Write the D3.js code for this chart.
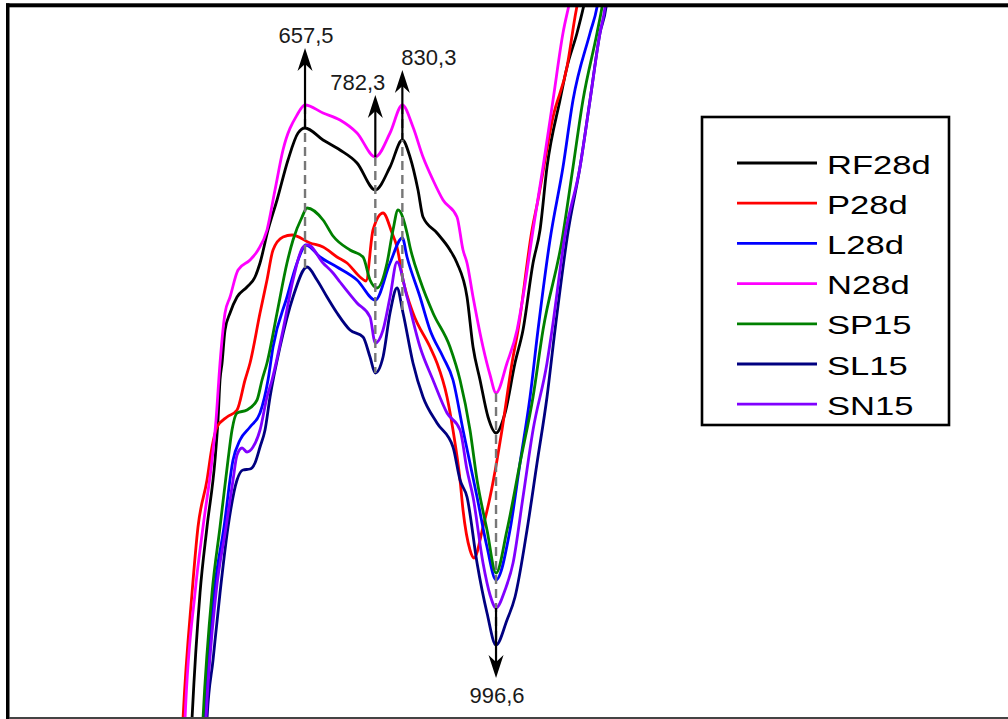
<!DOCTYPE html>
<html>
<head>
<meta charset="utf-8">
<script src="https://cdn.jsdelivr.net/npm/d3@7"></script>
<style>
  html, body { margin: 0; padding: 0; background: #fff; }
  svg { display: block; }
</style>
</head>
<body>
<svg id="chart" width="1008" height="719"></svg>
<script>
// Sample names and line colours, in legend order
const seriesNames  = ["RF28d", "P28d", "L28d", "N28d", "SP15", "SL15", "SN15"];
const seriesColors = ["#000000", "#ff0000", "#0000ff", "#ff00ff", "#008000", "#000080", "#8000ff"];

// Spectra: [wavenumber (cm-1), intensity (a.u.)]
const rf28d = [[455.1,-2],[456.9,0.1],[471.1,12.7],[483.5,19.3],[497.7,26.0],[503.0,30.0],[506.6,34.0],[510.2,35.7],[515.5,39.0],[524.4,40.7],[536.8,42.3],[554.5,43.3],[568.7,44.3],[577.6,45.7],[591.8,49.0],[607.8,52.0],[627.3,56.0],[645.1,58.7],[657.5,59.2],[689.5,58.0],[719.6,57.0],[749.8,55.7],[782.3,53.0],[808.4,55.3],[830.3,58.0],[843.9,56.3],[858.1,53.0],[867.0,50.3],[891.8,48.7],[914.9,47.0],[927.3,45.7],[945.1,42.3],[955.8,37.3],[968.2,34.0],[982.4,30.3],[996.6,28.7],[1012.6,30.7],[1030.3,35.7],[1044.5,39.0],[1062.3,45.7],[1074.7,49.0],[1087.1,55.3],[1110.2,62.0],[1122.6,65.3],[1140.4,68.7],[1154.6,72.0],[1161.7,74.0]];

const p28d = [[439.1,-2],[440.9,0.1],[456.9,12.7],[467.5,19.3],[483.5,24.0],[492.4,27.3],[501.3,29.3],[519.0,30.3],[536.8,31.0],[551.0,34.0],[559.9,35.7],[577.6,40.7],[590.0,44.0],[600.7,47.0],[618.4,48.3],[634.4,48.5],[666.4,47.7],[689.5,47.3],[714.3,46.3],[732.1,45.7],[755.1,44.3],[765.8,43.9],[778.2,49.0],[796.0,50.7],[812.0,48.7],[820.8,47.3],[831.5,44.0],[849.2,40.7],[879.4,37.3],[891.8,35.7],[909.6,32.3],[920.2,29.0],[932.7,24.0],[938.0,21.0],[950.4,17.0],[957.5,16.2],[973.5,19.3],[986.0,22.3],[998.4,26.0],[1007.2,29.0],[1025.0,35.7],[1035.7,39.0],[1060.5,49.0],[1071.1,52.0],[1097.8,60.3],[1122.6,65.3],[1136.8,70.3],[1142.2,72.0],[1147.5,74.0]];

const l28d = [[476.4,-2],[478.2,0.1],[495.9,12.7],[513.7,19.3],[529.7,26.0],[542.1,28.0],[559.9,29.3],[577.6,30.7],[591.8,34.0],[600.7,37.3],[625.5,42.3],[643.3,45.7],[659.3,47.5],[684.1,46.3],[714.3,45.3],[749.8,44.0],[782.3,42.0],[808.4,45.7],[830.3,48.2],[838.6,46.3],[861.7,42.3],[879.4,39.0],[902.5,36.3],[920.2,34.0],[938.0,29.0],[962.9,22.3],[980.6,17.3],[996.6,14.0],[1021.4,19.0],[1039.2,25.7],[1057.0,32.3],[1071.1,39.0],[1092.4,48.0],[1115.5,55.3],[1133.3,62.0],[1163.5,68.7],[1175.9,71.3],[1183.0,74.0]];

const n28d = [[443.0,-2],[444.5,0.1],[462.2,12.7],[476.4,19.3],[492.4,26.0],[499.5,30.0],[506.6,35.7],[515.5,40.7],[524.4,42.3],[538.6,45.0],[559.9,46.0],[574.1,47.0],[590.0,49.0],[604.2,53.0],[618.4,57.0],[643.3,60.5],[657.5,61.5],[689.5,60.7],[719.6,60.0],[749.8,58.7],[782.3,56.3],[808.4,58.7],[830.3,61.5],[849.2,59.3],[867.0,56.3],[884.7,54.0],[902.5,52.0],[927.3,50.3],[938.0,47.0],[945.1,45.7],[955.8,42.3],[973.5,37.3],[986.0,34.5],[996.6,32.7],[1016.1,35.7],[1033.9,39.0],[1044.5,42.3],[1062.3,49.0],[1080.0,55.3],[1097.8,62.0],[1115.5,68.7],[1128.0,72.0],[1135.0,74.0]];

const sp15 = [[474.6,-2],[476.4,0.1],[492.4,12.7],[506.6,19.3],[520.8,26.0],[527.9,29.0],[536.8,30.7],[554.5,31.0],[572.3,32.0],[581.2,34.0],[590.0,35.7],[607.8,40.7],[625.5,45.7],[636.2,48.0],[652.2,50.3],[661.1,51.2],[689.5,50.0],[707.2,48.4],[737.4,47.0],[760.5,46.3],[772.9,44.0],[785.3,43.2],[803.1,45.7],[813.7,49.0],[822.6,51.0],[838.6,48.7],[843.9,47.3],[861.7,44.0],[884.7,40.7],[914.9,37.3],[932.7,34.0],[950.4,29.0],[962.9,24.0],[980.6,19.0],[996.6,14.7],[1016.1,19.0],[1039.2,25.7],[1062.3,32.3],[1080.0,39.0],[1113.8,48.0],[1133.3,55.3],[1151.0,62.0],[1175.9,68.7],[1184.8,71.3],[1191.9,74.0]];

const sl15 = [[481.7,-2],[483.5,0.1],[494.2,6.0],[506.6,12.7],[520.8,19.3],[536.8,24.0],[547.4,25.0],[559.9,25.1],[568.7,25.7],[577.6,27.3],[586.5,29.0],[595.4,32.3],[613.1,37.3],[636.2,42.3],[661.1,45.3],[678.8,44.0],[696.6,42.3],[714.3,40.7],[737.4,39.0],[760.5,38.3],[772.9,36.3],[782.3,34.7],[796.0,36.3],[808.4,40.7],[820.8,43.2],[831.5,40.7],[849.2,35.7],[867.0,32.3],[891.8,29.7],[920.2,27.3],[932.7,24.0],[945.1,22.3],[962.9,15.7],[980.6,10.7],[996.6,7.5],[1016.1,10.0],[1030.3,12.3],[1051.6,19.0],[1069.4,25.7],[1087.1,32.3],[1101.3,39.0],[1124.4,48.8],[1145.7,55.3],[1163.5,62.0],[1181.2,68.7],[1191.9,71.3],[1197.1,74.0]];

const sn15 = [[479.9,-2],[481.7,0.1],[499.5,12.7],[517.3,19.3],[529.7,24.0],[536.8,26.5],[545.7,27.2],[554.5,26.8],[565.2,27.3],[577.6,29.0],[590.0,32.3],[598.9,34.0],[618.4,39.0],[636.2,44.0],[654.0,47.3],[662.8,47.5],[689.5,45.7],[707.2,44.7],[719.6,43.8],[749.8,41.7],[772.9,40.3],[782.3,37.7],[796.0,39.0],[808.4,42.3],[820.8,45.8],[838.6,42.3],[861.7,37.3],[884.7,34.0],[909.6,30.7],[932.7,29.0],[945.1,25.0],[955.8,22.3],[973.5,15.7],[986.0,12.5],[996.6,11.2],[1012.6,13.0],[1026.8,15.7],[1044.5,22.3],[1062.3,29.0],[1087.1,35.7],[1096.0,39.0],[1119.1,48.5],[1145.7,55.3],[1163.5,62.0],[1181.2,68.7],[1190.1,71.3],[1195.4,74.0]];

const seriesData = [rf28d, p28d, l28d, n28d, sp15, sl15, sn15];

// Marked band positions: label, wavenumber, arrow tip intensity, series the stem starts from
const bandLabels      = ["657,5", "782,3", "830,3", "996,6"];
const bandWavenumbers = [657.5, 782.3, 830.3, 996.6];
const bandArrowTips   = [67.2, 62.5, 65.0, 4.2];
const bandStemFrom    = ["RF28d", "N28d", "RF28d", "SN15"];

// ---- drawing ----
const W = 1008, H = 719;
const svg = d3.select("#chart");
const FONT = "'Liberation Sans', Arial, Helvetica, sans-serif";

const x = d3.scaleLinear().domain([116, 1905.5]).range([0, W]);
const y = d3.scaleLinear().domain([0, 72]).range([720, 0]);

svg.append("defs").append("clipPath").attr("id", "plot-clip")
  .append("rect").attr("x", 9).attr("y", 7).attr("width", W - 9).attr("height", 710);

const plot = svg.append("g").attr("clip-path", "url(#plot-clip)");

const line = d3.line()
  .x(d => x(d[0]))
  .y(d => y(d[1]))
  .curve(d3.curveMonotoneX);

// interpolated intensity of one spectrum at a wavenumber
const bis = d3.bisector(d => d[0]).left;
function valueAt(pts, w) {
  const i = bis(pts, w);
  if (i <= 0) return pts[0][1];
  if (i >= pts.length) return pts[pts.length - 1][1];
  const a = pts[i - 1], b = pts[i];
  const t = (w - a[0]) / (b[0] - a[0]);
  return a[1] + t * (b[1] - a[1]);
}

seriesData.forEach((pts, i) => {
  plot.append("path")
    .datum(pts)
    .attr("fill", "none")
    .attr("stroke", seriesColors[i])
    .attr("stroke-width", 2.8)
    .attr("stroke-linejoin", "round")
    .attr("d", line);
});

// band markers: dashed drop line across all spectra, solid arrow with label
const annot = svg.append("g");
bandWavenumbers.forEach((w, k) => {
  const cx = x(w);
  const vals = seriesData.map(s => valueAt(s, w));
  const vMax = d3.max(vals), vMin = d3.min(vals);
  const stemV = valueAt(seriesData[seriesNames.indexOf(bandStemFrom[k])], w);
  const tipY = y(bandArrowTips[k]);
  const up = bandArrowTips[k] > vMax;

  annot.append("line")
    .attr("x1", cx).attr("x2", cx)
    .attr("y1", y(vMax)).attr("y2", y(vMin))
    .attr("stroke", "#777").attr("stroke-width", 2.4)
    .attr("stroke-dasharray", "9,5");

  const s = up ? 1 : -1;
  annot.append("line")
    .attr("x1", cx).attr("x2", cx)
    .attr("y1", y(stemV)).attr("y2", tipY + s * 14)
    .attr("stroke", "#000").attr("stroke-width", 2.2);

  annot.append("path")
    .attr("d", `M${cx},${tipY} L${cx - 7.5},${tipY + s * 23} L${cx},${tipY + s * 16} L${cx + 7.5},${tipY + s * 23} Z`)
    .attr("fill", "#000");

  let tx = cx + 1, anchor = "middle";
  if (k === 1) { tx = cx + 10; anchor = "end"; }
  if (k === 2) { tx = cx - 1; anchor = "start"; }
  annot.append("text")
    .attr("x", tx)
    .attr("y", up ? tipY - 5 : tipY + 25)
    .attr("text-anchor", anchor)
    .attr("font-family", FONT)
    .attr("font-size", 22)
    .attr("fill", "#1a1a1a")
    .text(bandLabels[k]);
});

// frame
svg.append("rect").attr("x", 6).attr("y", 3.3).attr("width", W - 6).attr("height", 4).attr("fill", "#000");
svg.append("rect").attr("x", 6).attr("y", 3.3).attr("width", 3.5).attr("height", H).attr("fill", "#000");
svg.append("rect").attr("x", 9).attr("y", 717).attr("width", W - 9).attr("height", 2).attr("fill", "#444");

// legend
const lg = svg.append("g");
lg.append("rect")
  .attr("x", 702).attr("y", 117).attr("width", 247).attr("height", 308)
  .attr("fill", "#fff").attr("stroke", "#000").attr("stroke-width", 2.6);

seriesNames.forEach((name, i) => {
  const ly = 163 + i * 40.2;
  lg.append("line")
    .attr("x1", 737).attr("x2", 817)
    .attr("y1", ly).attr("y2", ly)
    .attr("stroke", seriesColors[i]).attr("stroke-width", 2.8);
  lg.append("text")
    .attr("transform", `translate(827,${ly + 10.5}) scale(1.33,1)`)
    .attr("font-family", FONT)
    .attr("font-size", 26)
    .attr("fill", "#000")
    .text(name);
});
</script>
</body>
</html>
